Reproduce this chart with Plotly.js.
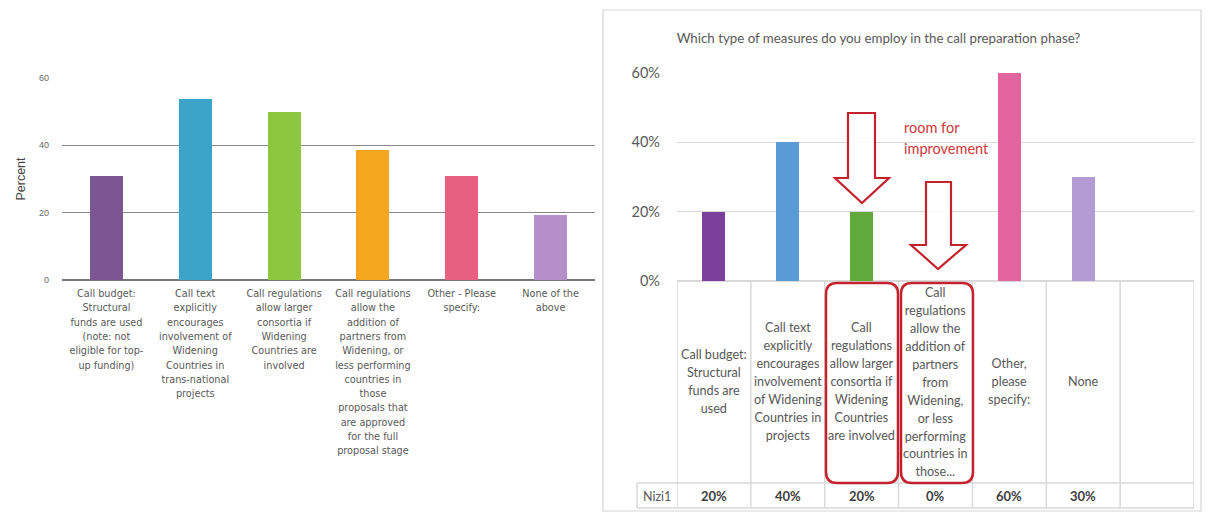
<!DOCTYPE html>
<html><head><meta charset="utf-8">
<script src="https://cdn.plot.ly/plotly-3.0.1.min.js"></script>
<style>html,body{margin:0;padding:0;background:#fff}</style>
</head><body><div id="chart" style="width:1216px;height:514px"></div>
<script>
// ---------- Left chart data ----------
const leftCategories = [
  "Call budget: Structural funds are used (note: not eligible for top-up funding)",
  "Call text explicitly encourages involvement of Widening Countries in trans-national projects",
  "Call regulations allow larger consortia if Widening Countries are involved",
  "Call regulations allow the addition of partners from Widening, or less performing countries in those proposals that are approved for the full proposal stage",
  "Other - Please specify:",
  "None of the above"
];
const leftTickLines = [
  ["Call budget:", "Structural", "funds are used", "(note: not", "eligible for top-", "up funding)"],
  ["Call text", "explicitly", "encourages", "involvement of", "Widening", "Countries in", "trans-national", "projects"],
  ["Call regulations", "allow larger", "consortia if", "Widening", "Countries are", "involved"],
  ["Call regulations", "allow the", "addition of", "partners from", "Widening, or", "less performing", "countries in", "those", "proposals that", "are approved", "for the full", "proposal stage"],
  ["Other - Please", "specify:"],
  ["None of the", "above"]
];
const leftPercent = [30.8, 53.8, 50.0, 38.5, 30.8, 19.2];
const leftColors = ["#7b5692", "#3ca3c9", "#8dc63f", "#f5a51e", "#e8607f", "#b48fca"];
const leftYTicks = [0, 20, 40, 60];
const leftYTitle = "Percent";

// ---------- Right chart data ----------
const rightTitle = "Which type of measures do you employ in the call preparation phase?";
const rightCategories = [
  "Call budget: Structural funds are used",
  "Call text explicitly encourages involvement of Widening Countries in projects",
  "Call regulations allow larger consortia if Widening Countries are involved",
  "Call regulations allow the addition of partners from Widening, or less performing countries in those...",
  "Other, please specify:",
  "None"
];
const rightCellLines = [
  ["Call budget:", "Structural", "funds are", "used"],
  ["Call text", "explicitly", "encourages", "involvement", "of Widening", "Countries in", "projects"],
  ["Call", "regulations", "allow larger", "consortia if", "Widening", "Countries", "are involved"],
  ["Call", "regulations", "allow the", "addition of", "partners", "from", "Widening,", "or less", "performing", "countries in", "those..."],
  ["Other,", "please", "specify:"],
  ["None"]
];
const rightSeriesName = "Nizi1";
const rightPercent = [20, 40, 20, 0, 60, 30];
const rightColors = ["#7d3f9c", "#5b9bd5", "#61a93d", "#a5a5a5", "#e2649f", "#b59bd4"];
const rightYTicks = [0, 20, 40, 60];
const rightYTickText = ["0%", "20%", "40%", "60%"];
const noteText = ["room for", "improvement"];

// ---------- helpers (pixel -> paper) ----------
const W = 1216, H = 514;
const px = x => x / W;
const py = y => 1 - y / H;
const sized = (lines, s) => lines.map(l => `<span style="font-size:${s}px">${l}</span>`).join("<br>");

const traces = [
  {
    type: "bar", x: leftCategories, y: leftPercent, xaxis: "x", yaxis: "y",
    marker: {color: leftColors}, width: 0.37, hoverinfo: "x+y", showlegend: false
  },
  {
    type: "bar", x: rightCategories, y: rightPercent, xaxis: "x2", yaxis: "y2",
    name: rightSeriesName, marker: {color: rightColors}, width: 0.31, showlegend: false
  }
];

// ---------- shapes ----------
const shapes = [];
const gridC = "#d9d9d9";
// right chart frame
shapes.push({type: "rect", xref: "paper", yref: "paper", x0: px(603), x1: px(1201), y0: py(10), y1: py(511),
  line: {color: "#d6d6d6", width: 1.2}, layer: "below"});
// table verticals on category boundaries (6 categories + one blank column)
for (let k = 0; k <= rightCategories.length + 1; k++) {
  shapes.push({type: "line", xref: "x2", yref: "paper", x0: k - 0.5, x1: k - 0.5, y0: py(282), y1: py(508),
    line: {color: gridC, width: 1.5}});
}
// series-name cell
shapes.push({type: "line", xref: "paper", yref: "paper", x0: px(637), x1: px(637), y0: py(483), y1: py(508), line: {color: gridC, width: 1.5}});
shapes.push({type: "line", xref: "paper", yref: "paper", x0: px(637), x1: px(1194), y0: py(483), y1: py(483), line: {color: gridC, width: 1.5}});
shapes.push({type: "line", xref: "paper", yref: "paper", x0: px(637), x1: px(1194), y0: py(508), y1: py(508), line: {color: gridC, width: 1.5}});

// red rounded rectangles
function roundRect(x0, y0, x1, y1, r) {
  const P = (x, y) => `${px(x)},${py(y)}`;
  return `M ${P(x0 + r, y0)} L ${P(x1 - r, y0)} Q ${P(x1, y0)} ${P(x1, y0 + r)} L ${P(x1, y1 - r)} Q ${P(x1, y1)} ${P(x1 - r, y1)} L ${P(x0 + r, y1)} Q ${P(x0, y1)} ${P(x0, y1 - r)} L ${P(x0, y0 + r)} Q ${P(x0, y0)} ${P(x0 + r, y0)} Z`;
}
const red = "#c4222c";
shapes.push({type: "path", xref: "paper", yref: "paper", path: roundRect(826, 283, 898, 483, 11), line: {color: red, width: 2.5}});
shapes.push({type: "path", xref: "paper", yref: "paper", path: roundRect(901, 283, 973, 483, 11), line: {color: red, width: 2.5}});

// hollow arrows
function arrow(sx0, sx1, top, headY, hx0, hx1, tipX, tipY) {
  const P = (x, y) => `${px(x)},${py(y)}`;
  return `M ${P(sx0, top)} L ${P(sx1, top)} L ${P(sx1, headY)} L ${P(hx1, headY)} L ${P(tipX, tipY)} L ${P(hx0, headY)} L ${P(sx0, headY)} Z`;
}
shapes.push({type: "path", xref: "paper", yref: "paper", path: arrow(848, 875, 113, 178, 835, 889, 862, 203),
  fillcolor: "rgba(255,255,255,0.85)", line: {color: red, width: 2.2}});
shapes.push({type: "path", xref: "paper", yref: "paper", path: arrow(926, 951, 182, 245, 911, 966, 938, 269),
  fillcolor: "rgba(255,255,255,0.85)", line: {color: red, width: 2.2}});

// ---------- annotations ----------
const annotations = [];
const cellFont = {family: "Lato, 'Open Sans', sans-serif", size: 13.8, color: "#595959"};
rightCellLines.forEach((lines, i) => {
  annotations.push({xref: "x2", yref: "paper", x: rightCategories[i], y: py(381.5), xanchor: "center", yanchor: "middle",
    text: sized(lines, 12.6), showarrow: false, align: "center", font: cellFont});
});
annotations.push({xref: "paper", yref: "paper", x: px(657), y: py(496), xanchor: "center", yanchor: "middle",
  text: rightSeriesName, showarrow: false, font: {family: "Lato, sans-serif", size: 12.5, color: "#595959"}});
rightPercent.forEach((v, i) => {
  annotations.push({xref: "x2", yref: "paper", x: rightCategories[i], y: py(496), xanchor: "center", yanchor: "middle",
    text: `<b>${v}%</b>`, showarrow: false, font: {family: "Lato, sans-serif", size: 13, color: "#404040"}});
});
annotations.push({xref: "paper", yref: "paper", x: px(902), y: py(138), xanchor: "left", yanchor: "middle",
  text: sized(noteText, 14.5), showarrow: false, align: "left", font: {family: "Lato, sans-serif", size: 16, color: "#d0393a"}});

const leftFont = "'DejaVu Sans', Verdana, sans-serif";
const layout = {
  width: W, height: H, autosize: false,
  margin: {l: 0, r: 0, t: 0, b: 0},
  paper_bgcolor: "#fff", plot_bgcolor: "rgba(0,0,0,0)",
  showlegend: false, bargap: 0,
  title: {text: rightTitle, x: px(878.5), y: py(38), xanchor: "center", yanchor: "middle",
    font: {family: "Lato, sans-serif", size: 13.3, color: "#595959"}},
  xaxis: {domain: [px(62), px(595)], anchor: "y", type: "category",
    tickvals: leftCategories, ticktext: leftTickLines.map(l => sized(l, 9.7)),
    tickfont: {family: leftFont, size: 11, color: "#5a5a5a"},
    ticks: "", ticklabelstandoff: 5, showline: false, showgrid: false, zeroline: false, tickangle: 0, automargin: false},
  yaxis: {domain: [py(280), py(78)], anchor: "x", range: [0, 60], tickvals: leftYTicks,
    showgrid: true, gridcolor: "#8a8a8a", gridwidth: 1, zeroline: true, zerolinecolor: "#777", zerolinewidth: 1.2,
    showline: false, ticks: "", ticklabelstandoff: 12,
    tickfont: {family: "'Liberation Sans', Arial, sans-serif", size: 9, color: "#666"},
    title: {text: leftYTitle, standoff: 10, font: {family: "'Liberation Sans', Arial, sans-serif", size: 12.5, color: "#444"}},
    automargin: false},
  xaxis2: {domain: [px(677), px(1194)], anchor: "y2", type: "category", range: [-0.5, rightCategories.length + 0.5],
    showticklabels: false, ticks: "", showline: false, showgrid: false, zeroline: false},
  yaxis2: {domain: [py(281), py(73)], anchor: "x2", range: [0, 60], tickvals: rightYTicks, ticktext: rightYTickText,
    showgrid: true, gridcolor: gridC, gridwidth: 1.5, zeroline: true, zerolinecolor: gridC, zerolinewidth: 1.5,
    showline: false, ticks: "", ticklabelstandoff: 16,
    tickfont: {family: "Lato, sans-serif", size: 14.5, color: "#595959"}, automargin: false},
  shapes: shapes,
  annotations: annotations
};

Plotly.newPlot("chart", traces, layout, {displayModeBar: false, staticPlot: true});
</script>
</body></html>
